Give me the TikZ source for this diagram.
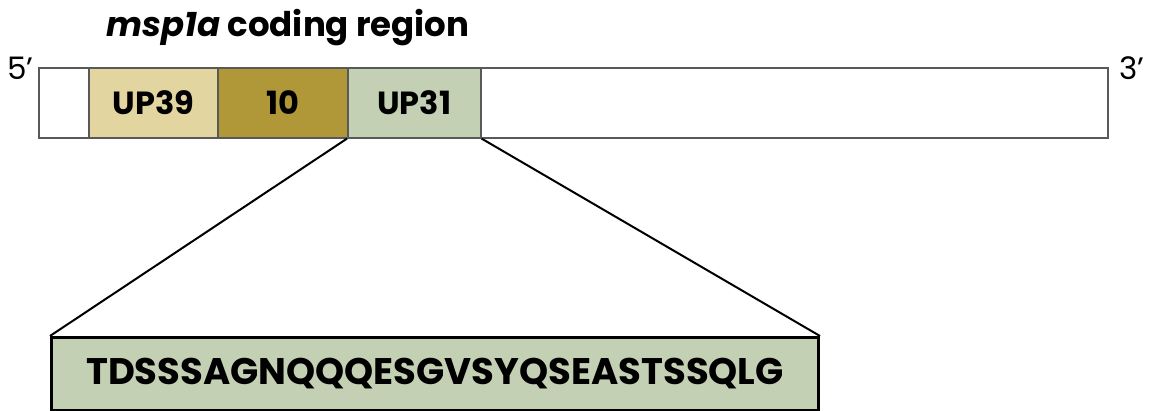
\documentclass[tikz,border=0pt]{standalone}
\usepackage{fontspec}
\setmainfont{Poppins}
\definecolor{tanlight}{RGB}{227,213,160}
\definecolor{olivebox}{RGB}{176,152,56}
\definecolor{sage}{RGB}{196,208,180}
\begin{document}
\begin{tikzpicture}[x=1pt,y=-1pt,
  seg/.style={draw=black!65, line width=1.6pt, minimum height=70pt,
    inner sep=0pt, anchor=north west,
    font=\bfseries\fontsize{32}{34}\selectfont},
  link/.style={line width=2pt, black}]
\useasboundingbox (0,0) rectangle (1154,411);

% gene bar
\node[seg, minimum width=50pt]  (w1)   at (38,67)  {};
\node[seg, minimum width=129pt, fill=tanlight] (up39) at (88,67)  {UP39};
\node[seg, minimum width=130pt, fill=olivebox] (ten)  at (217,67) {10};
\node[seg, minimum width=133pt, fill=sage]     (up31) at (347,67) {UP31};
\node[seg, minimum width=627pt] (w2)   at (480,67) {};

% ends and title
\node[anchor=base east, font=\fontsize{31}{33}\selectfont] (five) at (37,80) {5’};
\node[anchor=base west, font=\fontsize{31}{33}\selectfont] (three) at (1116,80) {3’};
\node[anchor=base west, font=\bfseries\fontsize{34}{36}\selectfont] (title) at (103,37)
  {\textit{msp1a} coding region};

% peptide box
\node[draw=black, line width=3pt, fill=sage, anchor=north west,
  minimum width=767pt, minimum height=73pt, inner sep=0pt,
  font=\bfseries\fontsize{37}{40}\selectfont] (pep) at (50,336)
  {TDSSSAGNQQQESGVSYQSEASTSSQLG};

% expansion lines
\draw[link] (up31.south west) -- (pep.north west);
\draw[link] (up31.south east) -- (pep.north east);
\end{tikzpicture}
\end{document}
